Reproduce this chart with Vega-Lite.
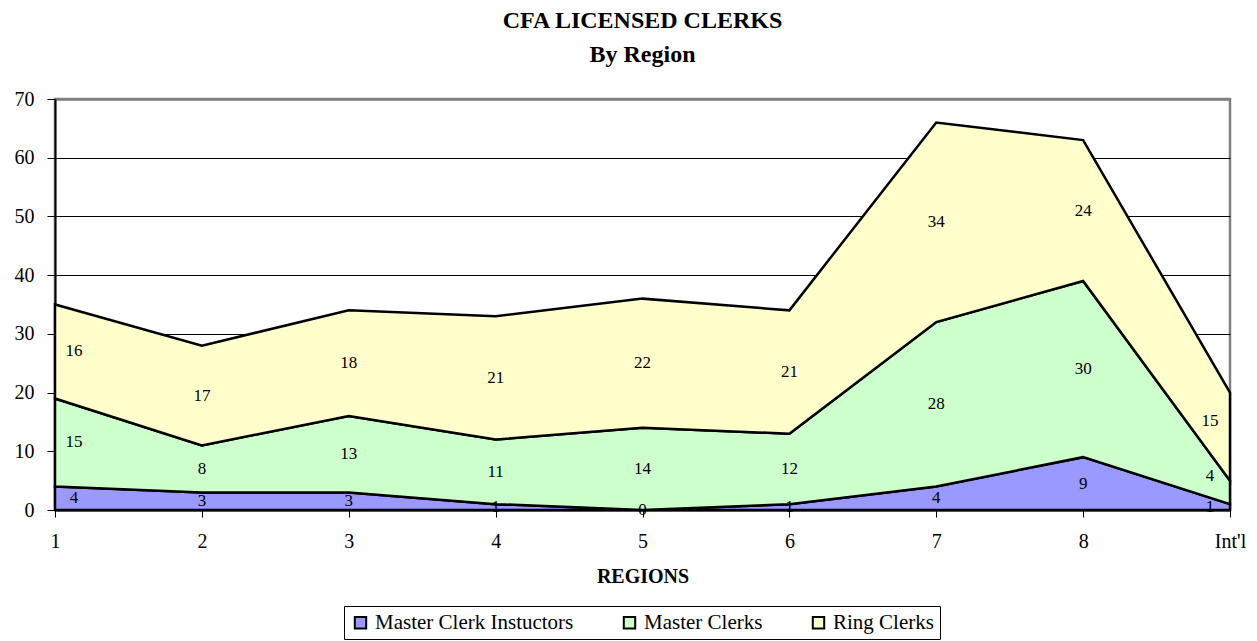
{
  "$schema": "https://vega.github.io/schema/vega-lite/v6.json",
  "width": 1175,
  "height": 411,
  "autosize": {"type": "none"},
  "padding": {"left": 55, "top": 99, "right": 27, "bottom": 131},
  "background": "white",
  "title": {
    "text": ["CFA LICENSED CLERKS", "By Region"],
    "anchor": "middle",
    "frame": "group",
    "font": "Liberation Serif",
    "fontSize": 24,
    "fontWeight": "bold",
    "color": "black",
    "lineHeight": 34,
    "offset": 22
  },
  "config": {
    "view": {"stroke": "#808080", "strokeWidth": 2.5},
    "font": "Liberation Serif"
  },
  "data": {
    "values": [
      {"region": "1", "series": "Master Clerk Instuctors", "count": 4},
      {"region": "2", "series": "Master Clerk Instuctors", "count": 3},
      {"region": "3", "series": "Master Clerk Instuctors", "count": 3},
      {"region": "4", "series": "Master Clerk Instuctors", "count": 1},
      {"region": "5", "series": "Master Clerk Instuctors", "count": 0},
      {"region": "6", "series": "Master Clerk Instuctors", "count": 1},
      {"region": "7", "series": "Master Clerk Instuctors", "count": 4},
      {"region": "8", "series": "Master Clerk Instuctors", "count": 9},
      {"region": "Int'l", "series": "Master Clerk Instuctors", "count": 1},
      {"region": "1", "series": "Master Clerks", "count": 15},
      {"region": "2", "series": "Master Clerks", "count": 8},
      {"region": "3", "series": "Master Clerks", "count": 13},
      {"region": "4", "series": "Master Clerks", "count": 11},
      {"region": "5", "series": "Master Clerks", "count": 14},
      {"region": "6", "series": "Master Clerks", "count": 12},
      {"region": "7", "series": "Master Clerks", "count": 28},
      {"region": "8", "series": "Master Clerks", "count": 30},
      {"region": "Int'l", "series": "Master Clerks", "count": 4},
      {"region": "1", "series": "Ring Clerks", "count": 16},
      {"region": "2", "series": "Ring Clerks", "count": 17},
      {"region": "3", "series": "Ring Clerks", "count": 18},
      {"region": "4", "series": "Ring Clerks", "count": 21},
      {"region": "5", "series": "Ring Clerks", "count": 22},
      {"region": "6", "series": "Ring Clerks", "count": 21},
      {"region": "7", "series": "Ring Clerks", "count": 34},
      {"region": "8", "series": "Ring Clerks", "count": 24},
      {"region": "Int'l", "series": "Ring Clerks", "count": 15}
    ]
  },
  "transform": [
    {"stack": "count", "groupby": ["region"], "sort": [{"field": "series", "order": "ascending"}], "as": ["lo", "hi"]}
  ],
  "encoding": {
    "x": {
      "field": "region",
      "type": "ordinal",
      "sort": ["1", "2", "3", "4", "5", "6", "7", "8", "Int'l"],
      "scale": {"type": "point", "padding": 0},
      "axis": {
        "labelAngle": 0,
        "title": "REGIONS",
        "titleFont": "Liberation Serif",
        "titleFontSize": 20,
        "titleFontWeight": "bold",
        "titleColor": "black",
        "titlePadding": 15,
        "labelFont": "Liberation Serif",
        "labelFontSize": 20,
        "labelColor": "black",
        "labelPadding": 14,
        "tickColor": "black",
        "tickSize": 7,
        "tickWidth": 1,
        "domainColor": "black",
        "domainWidth": 2,
        "grid": false
      }
    }
  },
  "layer": [
    {
      "mark": {"type": "area", "stroke": "black", "strokeWidth": 2.5, "interpolate": "linear", "opacity": 1, "fillOpacity": 1},
      "encoding": {
        "y": {
          "field": "lo",
          "type": "quantitative",
          "scale": {"domain": [0, 70], "nice": false},
          "axis": {
            "title": null,
            "values": [0, 10, 20, 30, 40, 50, 60, 70],
            "labelFont": "Liberation Serif",
            "labelFontSize": 20,
            "labelColor": "black",
            "labelPadding": 13,
            "tickColor": "black",
            "tickSize": 8,
            "tickWidth": 1,
            "domainColor": "black",
            "domainWidth": 2,
            "grid": true,
            "gridColor": {"condition": {"test": "datum.value === 70", "value": "#808080"}, "value": "black"},
            "gridWidth": {"condition": {"test": "datum.value === 70", "value": 2.5}, "value": 1}
          }
        },
        "y2": {"field": "hi"},
        "color": {
          "field": "series",
          "type": "nominal",
          "scale": {
            "domain": ["Master Clerk Instuctors", "Master Clerks", "Ring Clerks"],
            "range": ["#9999FF", "#CCFFCC", "#FFFFCC"]
          },
          "legend": {
            "title": null,
            "orient": "none",
            "direction": "horizontal",
            "legendX": 289,
            "legendY": 507,
            "symbolType": "square",
            "symbolSize": 130,
            "symbolStrokeColor": "black",
            "symbolStrokeWidth": 2,
            "symbolOpacity": 1,
            "labelFont": "Liberation Serif",
            "labelFontSize": 21,
            "labelColor": "black",
            "labelOffset": 4,
            "labelLimit": 400,
            "columnPadding": 45,
            "strokeColor": "black",
            "padding": 6,
            "fillColor": "white"
          }
        }
      }
    },
    {
      "transform": [
        {"fold": ["lo", "hi"], "as": ["edge", "pos"]},
        {"aggregate": [{"op": "mean", "field": "pos", "as": "mid"}], "groupby": ["region", "series", "count"]},
        {"filter": "datum.region !== '1' && datum.region !== \"Int'l\""}
      ],
      "mark": {"type": "text", "font": "Liberation Serif", "fontSize": 17, "color": "black", "baseline": "middle"},
      "encoding": {
        "y": {"field": "mid", "type": "quantitative"},
        "text": {"field": "count", "type": "quantitative"}
      }
    },
    {
      "transform": [
        {"fold": ["lo", "hi"], "as": ["edge", "pos"]},
        {"aggregate": [{"op": "mean", "field": "pos", "as": "mid"}], "groupby": ["region", "series", "count"]},
        {"filter": "datum.region === '1'"}
      ],
      "mark": {"type": "text", "font": "Liberation Serif", "fontSize": 17, "color": "black", "baseline": "middle", "dx": 19},
      "encoding": {
        "y": {"field": "mid", "type": "quantitative"},
        "text": {"field": "count", "type": "quantitative"}
      }
    },
    {
      "transform": [
        {"fold": ["lo", "hi"], "as": ["edge", "pos"]},
        {"aggregate": [{"op": "mean", "field": "pos", "as": "mid"}], "groupby": ["region", "series", "count"]},
        {"filter": "datum.region === \"Int'l\" && datum.series === 'Master Clerk Instuctors'"}
      ],
      "mark": {"type": "text", "font": "Liberation Serif", "fontSize": 17, "color": "black", "baseline": "middle", "dx": -20},
      "encoding": {
        "y": {"field": "mid", "type": "quantitative"},
        "text": {"field": "count", "type": "quantitative"}
      }
    },
    {
      "transform": [
        {"fold": ["lo", "hi"], "as": ["edge", "pos"]},
        {"aggregate": [{"op": "mean", "field": "pos", "as": "mid"}], "groupby": ["region", "series", "count"]},
        {"filter": "datum.region === \"Int'l\" && datum.series !== 'Master Clerk Instuctors'"}
      ],
      "mark": {"type": "text", "font": "Liberation Serif", "fontSize": 17, "color": "black", "baseline": "middle", "dx": -20, "dy": -16},
      "encoding": {
        "y": {"field": "mid", "type": "quantitative"},
        "text": {"field": "count", "type": "quantitative"}
      }
    }
  ]
}
